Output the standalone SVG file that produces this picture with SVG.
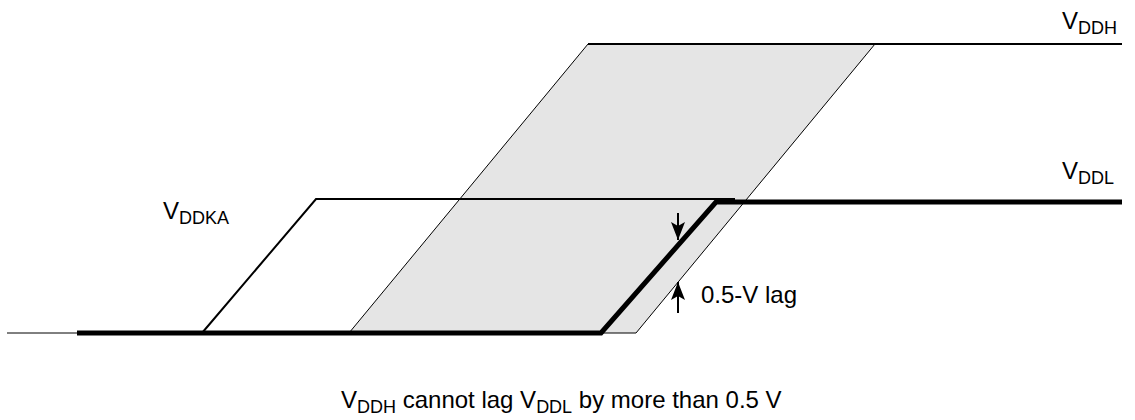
<svg xmlns="http://www.w3.org/2000/svg" width="1135" height="420" viewBox="0 0 1135 420">
<style>
text{font-family:"Liberation Sans",Arial,sans-serif;font-size:24px;fill:#000}
.sub{font-size:18px}
.thin{fill:none;stroke:#000;stroke-width:1}
.mid{fill:none;stroke:#000;stroke-width:2}
.thick{fill:none;stroke:#000;stroke-width:5;stroke-linejoin:miter}
.arr{fill:none;stroke:#000;stroke-width:2}
</style>
<defs>
<marker id="ah" viewBox="0 0 18 14" refX="18" refY="7" markerWidth="18" markerHeight="14" markerUnits="userSpaceOnUse" orient="auto">
<path d="M0,0 L18,7 L0,14 L4,7 z" fill="#000"/>
</marker>
</defs>
<g id="shaded">
<polygon points="349,333 588,44 875,44 636,333" fill="#e5e5e5" stroke="#000" stroke-width="1"/>
</g>
<g id="connectors">
<line class="thin" x1="7" y1="333" x2="77" y2="333"/>
<polyline class="mid" points="202,333 316,199 735,199"/>
<line class="mid" x1="588" y1="44" x2="1122" y2="44"/>
<polyline class="thick" points="77,333 601,333 716,202 1122,202"/>
<line class="arr" x1="678" y1="213" x2="678" y2="240" marker-end="url(#ah)"/>
<line class="arr" x1="678" y1="313" x2="678" y2="282" marker-end="url(#ah)"/>
</g>
<g id="labels">
<text x="1062" y="29">V<tspan class="sub" dy="5">DDH</tspan></text>
<text x="1062" y="179">V<tspan class="sub" dy="5">DDL</tspan></text>
<text x="163" y="219">V<tspan class="sub" dy="5">DDKA</tspan></text>
<text x="701" y="303">0.5-V lag</text>
<text x="341" y="408">V<tspan class="sub" dy="5">DDH</tspan><tspan dy="-5"> cannot lag V</tspan><tspan class="sub" dy="5">DDL</tspan><tspan dy="-5"> by more than 0.5 V</tspan></text>
</g>
</svg>
